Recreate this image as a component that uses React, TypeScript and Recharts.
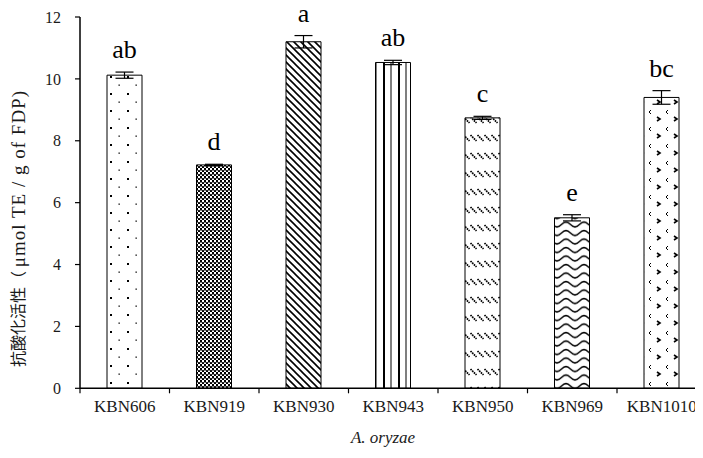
import React from "react";
import { Bar, BarChart, Cell, ErrorBar, LabelList, XAxis, YAxis } from "recharts";

// strains on the x axis
const categories = ["KBN606", "KBN919", "KBN930", "KBN943", "KBN950", "KBN969", "KBN1010"];
// antioxidant activity, µmol TE / g of FDP
const activity = [10.12, 7.22, 11.2, 10.53, 8.74, 5.51, 9.4];
const sdError = [0.1, 0.02, 0.2, 0.07, 0.05, 0.1, 0.22];
// significance letters above the bars
const letters = ["ab", "d", "a", "ab", "c", "e", "bc"];
const yTicks = [0, 2, 4, 6, 8, 10, 12];

const rows = categories.map((name, i) => ({
  name,
  slot: i + 0.5,
  value: activity[i],
  err: sdError[i],
  letter: letters[i],
}));

const boundaryTicks = categories.flatMap((_, i) => [i, i + 0.5]).concat(categories.length);

const serif = "'Liberation Serif', 'Times New Roman', serif";
const txt = (size: number, extra: React.CSSProperties = {}): React.CSSProperties => ({
  fontFamily: serif,
  fontSize: size,
  ...extra,
});

const Patterns = () => (
  <defs>
    <pattern id="p0" width={17} height={17} patternUnits="userSpaceOnUse">
      <rect width={17} height={17} fill="#fff" />
      <rect x={0} y={0} width={2} height={2} fill="#000" />
      <rect x={8.5} y={8.5} width={1.3} height={1.3} fill="#000" />
    </pattern>
    <pattern id="p1" width={4} height={4} patternUnits="userSpaceOnUse">
      <rect width={4} height={4} fill="#fff" />
      <rect x={0} y={0} width={2} height={2} fill="#000" />
      <rect x={2} y={2} width={2} height={2} fill="#000" />
      <rect x={0} y={2} width={4} height={0.6} fill="#333" />
    </pattern>
    <pattern id="p2" width={7} height={7} patternUnits="userSpaceOnUse">
      <rect width={7} height={7} fill="#fff" />
      <path d="M-1,-1 L8,8 M-1,6 L1,8 M6,-1 L8,1" stroke="#000" strokeWidth={1.6} />
    </pattern>
    <pattern id="p3" width={15} height={10} patternUnits="userSpaceOnUse">
      <rect width={15} height={10} fill="#fff" />
      <rect x={0} y={0} width={2} height={10} fill="#000" />
      <rect x={7.5} y={0} width={1} height={10} fill="#000" />
    </pattern>
    <pattern id="p4" width={7} height={18} patternUnits="userSpaceOnUse">
      <rect width={7} height={18} fill="#fff" />
      <path d="M0.5,1 L6.5,7" stroke="#000" strokeWidth={1.7} strokeDasharray="1.6 0.8" />
    </pattern>
    <pattern id="p5" width={18} height={8.5} patternUnits="userSpaceOnUse">
      <rect width={18} height={8.5} fill="#fff" />
      <path d="M0,1.5 C4,1.5 5,6.5 9,6.5 C13,6.5 14,1.5 18,1.5" stroke="#000" strokeWidth={1.5} fill="none" />
    </pattern>
    <pattern id="p6" width={17} height={17} patternUnits="userSpaceOnUse">
      <rect width={17} height={17} fill="#fff" />
      <path d="M3,7 L6,9 L3,11" stroke="#000" strokeWidth={1.6} fill="none" />
      <path d="M14,0 L12,2 L14,4" stroke="#000" strokeWidth={1} fill="none" />
    </pattern>
  </defs>
);

const XTick = (props: any) => {
  const { x, y, payload } = props;
  const v = payload.value;
  if (Number.isInteger(v)) {
    return <line x1={x} x2={x} y1={y} y2={y + 5} stroke="#000" strokeWidth={1.2} />;
  }
  return (
    <text x={x} y={y + 12} dy="0.71em" textAnchor="middle" style={txt(17)} fill="#1a1a1a">
      {categories[Math.floor(v)]}
    </text>
  );
};

const YTick = (props: any) => {
  const { x, y, payload } = props;
  return (
    <text x={x} y={y} dy="0.355em" textAnchor="end" style={txt(16)} fill="#1a1a1a">
      {payload.value}
    </text>
  );
};

const LetterLabel = (props: any) => {
  const { x, y, width, height, index } = props;
  const pxPerUnit = height / activity[index];
  const top = y - sdError[index] * pxPerUnit;
  return (
    <text x={x + width / 2} y={top - 14} textAnchor="middle" style={txt(26)} fill="#000">
      {letters[index]}
    </text>
  );
};

const Titles = () => (
  <g>
    <text
      x={9}
      y={359}
      transform="rotate(-90, 9, 359)"
      textAnchor="start"
      dominantBaseline="central"
      fill="#1a1a1a"
      fontSize={16}
      style={{ fontFamily: "'Noto Sans CJK JP', 'Noto Sans CJK SC', sans-serif", fontSize: 16 }}
    >
      抗酸化活性（
    </text>
    <text
      x={10}
      y={82}
      transform="rotate(-90, 10, 82)"
      textAnchor="end"
      dominantBaseline="central"
      fill="#1a1a1a"
      style={txt(19, { letterSpacing: 1 })}
    >
      μmol TE / g of FDP)
    </text>
    <text
      x={375}
      y={429}
      textAnchor="middle"
      dominantBaseline="central"
      style={txt(17, { fontStyle: "italic" })}
      fill="#1a1a1a"
    >
      A. oryzae
    </text>
  </g>
);

export default function App() {
  return (
    <div style={{ width: 695, height: 450, overflow: "hidden" }}>
      <BarChart width={700} height={450} data={rows} margin={{ top: 9, right: 1.5, left: 0, bottom: 39.7 }}>
        <Patterns />
        <XAxis
          xAxisId="num"
          dataKey="slot"
          type="number"
          domain={[0, categories.length]}
          allowDataOverflow
          ticks={boundaryTicks}
          interval={0}
          tickLine={false}
          tickSize={0}
          tickMargin={0}
          tick={<XTick />}
          axisLine={{ stroke: "#000", strokeWidth: 1.5 }}
          height={30}
        />
        <XAxis xAxisId="cat" dataKey="name" hide height={0} padding={{ left: 0, right: 0 }} />
        <YAxis
          domain={[0, 12]}
          ticks={yTicks}
          interval={0}
          width={72}
          tickSize={5}
          tickMargin={14}
          tickLine={{ stroke: "#000", strokeWidth: 1.2 }}
          axisLine={{ stroke: "#000", strokeWidth: 1.5 }}
          tick={<YTick />}
        />
        <Bar
          xAxisId="cat"
          dataKey="value"
          barSize={35}
          stroke="#000"
          strokeWidth={1}
          isAnimationActive={false}
        >
          {rows.map((_, i) => (
            <Cell key={i} fill={`url(#p${i})`} />
          ))}
          <ErrorBar dataKey="err" width={9} stroke="#000" strokeWidth={1.2} direction="y" />
          <LabelList dataKey="letter" content={<LetterLabel />} />
        </Bar>
        <Titles />
      </BarChart>
    </div>
  );
}
